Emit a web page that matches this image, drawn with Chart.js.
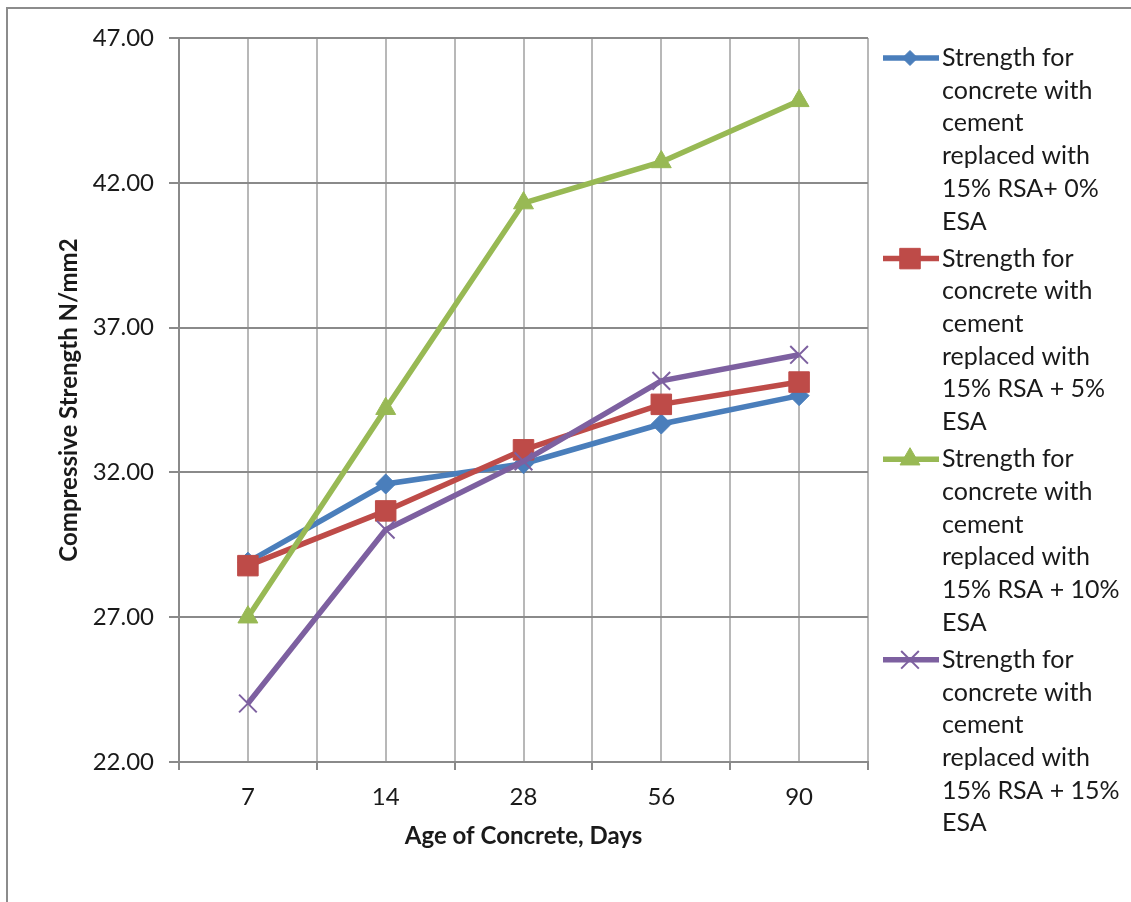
<!DOCTYPE html>
<html>
<head>
<meta charset="utf-8">
<title>Compressive Strength vs Age of Concrete</title>
<script src="https://cdn.jsdelivr.net/npm/chart.js@4/dist/chart.umd.min.js"></script>
<style>
  html, body { margin: 0; padding: 0; background: #ffffff; overflow: hidden; }
  #wrap { position: relative; width: 1131px; height: 902px; }
  #frame { position: absolute; left: 6px; top: 7px; width: 1200px; height: 1000px;
           border: 2px solid #8c8c8c; box-sizing: border-box; pointer-events: none; }
  canvas { position: absolute; left: 0; top: 0; }
</style>
</head>
<body>
<div id="wrap">
  <div id="frame"></div>
  <canvas id="chart" width="1131" height="902"></canvas>
</div>
<script>
// Age of concrete (days) along the x axis
const days = ['7', '14', '28', '56', '90'];

// Compressive strength (N/mm2) for each mix
const rsa15Esa0  = [28.90, 31.60, 32.30, 33.67, 34.65];
const rsa15Esa5  = [28.78, 30.67, 32.78, 34.35, 35.12];
const rsa15Esa10 = [27.00, 34.20, 41.30, 42.72, 44.83];
const rsa15Esa15 = [24.02, 30.02, 32.38, 35.16, 36.06];

// Legend text, one entry per line
const name0  = ['Strength for', 'concrete with', 'cement', 'replaced with', '15% RSA+ 0%', 'ESA'];
const name5  = ['Strength for', 'concrete with', 'cement', 'replaced with', '15% RSA + 5%', 'ESA'];
const name10 = ['Strength for', 'concrete with', 'cement', 'replaced with', '15% RSA + 10%', 'ESA'];
const name15 = ['Strength for', 'concrete with', 'cement', 'replaced with', '15% RSA + 15%', 'ESA'];

// Value axis range
const yMin = 22;
const yMax = 47;
const yStep = 5;

const FONT = 'Lato, "Open Sans", "Liberation Sans", sans-serif';
const TEXT = '#1a1a1a';
const AXIS = '#8a8a8a';
const VGRID = '#b8b8b8';

function points(values) {
  return values.map((v, i) => ({ x: i, y: v }));
}

function series(label, values, color, style, radius, borderWidth, order) {
  return {
    label: label,
    data: points(values),
    borderColor: color,
    backgroundColor: color,
    borderWidth: 5.5,
    pointStyle: style,
    pointRadius: radius,
    pointHoverRadius: radius,
    pointBorderWidth: borderWidth,
    pointBackgroundColor: color,
    pointBorderColor: color,
    tension: 0,
    fill: false,
    order: order
  };
}

// Legend drawn to the right of the plot, with wrapped labels
const sideLegend = {
  id: 'sideLegend',
  afterDraw(chart) {
    const ctx = chart.ctx;
    const lineX0 = 883, lineX1 = 939, markX = 910, textX = 942;
    const firstY = 58, lineH = 32.7, stride = 200.6;
    ctx.save();
    chart.data.datasets.forEach((ds, i) => {
      const y = firstY + i * stride;
      ctx.strokeStyle = ds.borderColor;
      ctx.lineWidth = 5.5;
      ctx.lineCap = 'butt';
      ctx.beginPath();
      ctx.moveTo(lineX0, y);
      ctx.lineTo(lineX1, y);
      ctx.stroke();
      ctx.fillStyle = ds.pointBackgroundColor;
      ctx.strokeStyle = ds.pointBorderColor;
      ctx.lineWidth = ds.pointBorderWidth;
      const r = ds.pointStyle === 'rectRot' ? 7.5 : ds.pointRadius;
      Chart.helpers.drawPoint(ctx, {
        pointStyle: ds.pointStyle,
        radius: r,
        borderWidth: ds.pointBorderWidth,
        rotation: 0
      }, markX, y);
      ctx.fillStyle = TEXT;
      ctx.font = '25px ' + FONT;
      ctx.textAlign = 'left';
      ctx.textBaseline = 'middle';
      ds.label.forEach((line, k) => {
        ctx.fillText(line, textX, y + k * lineH);
      });
    });
    ctx.restore();
  }
};

function build() {
  const ctx = document.getElementById('chart').getContext('2d');
  new Chart(ctx, {
    type: 'line',
    data: {
      datasets: [
        series(name0,  rsa15Esa0,  '#4a7ebb', 'rectRot', 10, 1, 3),
        series(name5,  rsa15Esa5,  '#be4b48', 'rect',    14.5, 1, 2),
        series(name10, rsa15Esa10, '#98b954', 'triangle', 11.5, 1, 1),
        series(name15, rsa15Esa15, '#7d60a0', 'crossRot', 12.5, 2, 0)
      ]
    },
    options: {
      responsive: false,
      animation: false,
      devicePixelRatio: 1,
      layout: { padding: { left: 52, top: 38, right: 263, bottom: 48 } },
      plugins: {
        legend: { display: false },
        tooltip: { enabled: false }
      },
      scales: {
        x: {
          type: 'linear',
          min: -0.5,
          max: days.length - 0.5,
          afterFit(scale) { scale.height = 92; },
          ticks: {
            stepSize: 0.5,
            autoSkip: false,
            maxRotation: 0,
            padding: 13,
            color: TEXT,
            font: { family: FONT, size: 24 },
            callback(value) {
              return Number.isInteger(value) ? days[value] : '';
            }
          },
          grid: {
            color: VGRID,
            lineWidth: 2,
            tickLength: 8,
            tickWidth: 2,
            tickColor(c) {
              return (c.tick && Number.isInteger(c.tick.value)) ? 'rgba(0,0,0,0)' : AXIS;
            }
          },
          border: { color: AXIS, width: 2 },
          title: {
            display: true,
            text: 'Age of Concrete, Days',
            color: TEXT,
            font: { family: FONT, size: 24, weight: 'bold' },
            padding: { top: 4, bottom: 3 }
          }
        },
        y: {
          min: yMin,
          max: yMax,
          afterFit(scale) { scale.width = 127; },
          ticks: {
            stepSize: yStep,
            padding: 15,
            color: TEXT,
            font: { family: FONT, size: 24 },
            callback(value) { return Number(value).toFixed(2); }
          },
          grid: {
            color: AXIS,
            lineWidth: 2,
            tickLength: 10,
            tickWidth: 2,
            tickColor: AXIS
          },
          border: { color: AXIS, width: 2 },
          title: {
            display: true,
            text: 'Compressive Strength N/mm2',
            color: TEXT,
            font: { family: FONT, size: 24, weight: 'bold' },
            padding: { top: 3, bottom: 4 }
          }
        }
      }
    },
    plugins: [sideLegend]
  });
}

if (document.fonts && document.fonts.load) {
  Promise.all([
    document.fonts.load('24px Lato'),
    document.fonts.load('bold 24px Lato')
  ]).then(build, build);
} else {
  build();
}
</script>
</body>
</html>
